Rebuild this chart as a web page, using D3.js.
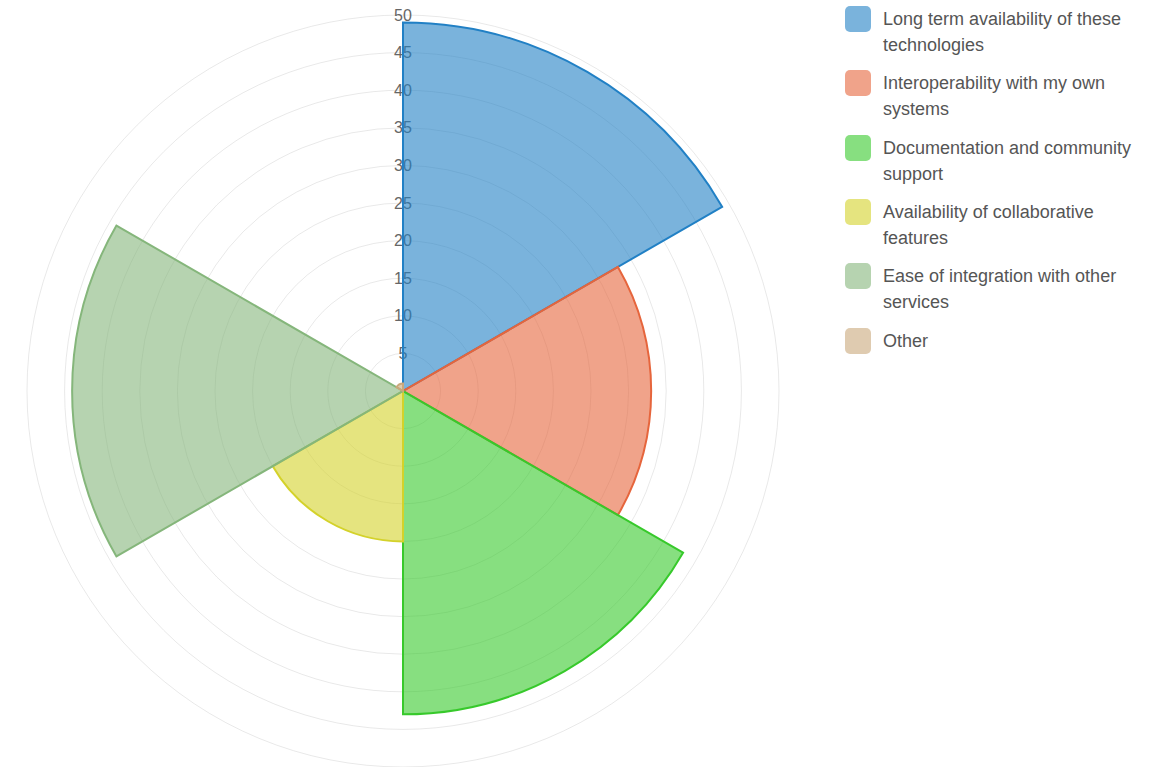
<!DOCTYPE html>
<html>
<head>
<meta charset="utf-8">
<script src="https://cdn.jsdelivr.net/npm/d3@7"></script>
<style>
  html, body { margin: 0; padding: 0; background: #fff; }
  svg { display: block; }
  text { font-family: "Liberation Sans", Arial, Helvetica, sans-serif; }
</style>
</head>
<body>
<svg id="chart" width="1166" height="767"></svg>
<script>
const categories = [
  "Long term availability of these technologies",
  "Interoperability with my own systems",
  "Documentation and community support",
  "Availability of collaborative features",
  "Ease of integration with other services",
  "Other"
];
const values = [49, 33, 43, 20, 44, 1];
const colors = ["#2180c5", "#e6653c", "#37c92b", "#d4d22a", "#85b67b", "#caa87b"];
const tickValues = [5, 10, 15, 20, 25, 30, 35, 40, 45, 50];

const W = 1166, H = 767;
const cx = 403, cy = 391, R = 376;
const svg = d3.select("#chart");

const r = d3.scaleLinear().domain([0, 50]).range([0, R]);
const angle = d3.scaleBand().domain(categories).range([0, 2 * Math.PI]).paddingInner(0).paddingOuter(0);

const g = svg.append("g").attr("transform", `translate(${cx},${cy})`);

// grid rings
g.selectAll("circle.grid").data(tickValues).join("circle")
  .attr("class", "grid")
  .attr("r", d => r(d))
  .attr("fill", "none")
  .attr("stroke", "rgba(0,0,0,0.09)")
  .attr("stroke-width", 1);

// tick labels
g.selectAll("text.tick").data(tickValues).join("text")
  .attr("class", "tick")
  .attr("x", 0)
  .attr("y", d => -r(d))
  .attr("text-anchor", "middle")
  .attr("dominant-baseline", "central")
  .attr("font-size", 16)
  .attr("fill", "#666")
  .text(d => d);

// sectors
const arc = d3.arc()
  .innerRadius(0)
  .outerRadius(d => r(d.value))
  .startAngle(d => angle(d.cat))
  .endAngle(d => angle(d.cat) + angle.bandwidth());

const data = categories.map((c, i) => ({ cat: c, value: values[i], color: colors[i] }));
g.selectAll("path.sector").data(data).join("path")
  .attr("class", "sector")
  .attr("d", arc)
  .attr("fill", d => d.color)
  .attr("fill-opacity", 0.6)
  .attr("stroke", d => d.color)
  .attr("stroke-width", 2)
  .attr("stroke-linejoin", "miter");

// legend
const legend = svg.append("g").attr("transform", "translate(845,0)");
const itemY = [19, 83, 148, 212, 276, 341];
const maxW = 262;
data.forEach((d, i) => {
  const item = legend.append("g").attr("transform", `translate(0,${itemY[i]})`);
  item.append("rect")
    .attr("x", 0).attr("y", -13)
    .attr("width", 26).attr("height", 26)
    .attr("rx", 5).attr("ry", 5)
    .attr("fill", d.color)
    .attr("fill-opacity", 0.6);
  const text = item.append("text")
    .attr("x", 38).attr("y", 0)
    .attr("font-size", 18)
    .attr("fill", "#555")
    .attr("dominant-baseline", "central");
  const words = d.cat.split(" ");
  let line = [];
  let tspan = text.append("tspan").attr("x", 38).attr("dy", 0);
  words.forEach(w => {
    line.push(w);
    tspan.text(line.join(" "));
    if (tspan.node().getComputedTextLength() > maxW && line.length > 1) {
      line.pop();
      tspan.text(line.join(" "));
      line = [w];
      tspan = text.append("tspan").attr("x", 38).attr("dy", 26).text(w);
    }
  });
});
</script>
</body>
</html>
